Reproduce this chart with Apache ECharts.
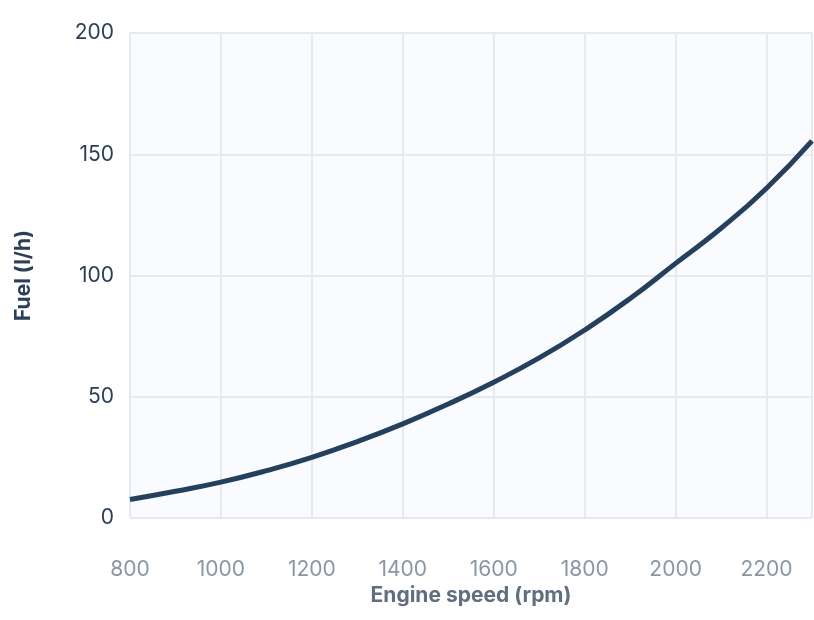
<!DOCTYPE html>
<html><head><meta charset="utf-8">
<script src="https://cdn.jsdelivr.net/npm/echarts@6/dist/echarts.min.js"></script>
<style>html,body{margin:0;padding:0;background:#fff}#c{width:814px;height:620px}</style>
</head><body><div id="c"></div>
<script>
const speeds = [800,900,1000,1100,1200,1300,1400,1500,1600,1700,1800,1900,2000,2100,2200,2300];
const fuel = [7.6,11,14.8,19.5,25,31.5,38.8,47,56,66,77.5,90.5,105,119.5,136,155.5];
const chart = echarts.init(document.getElementById('c'));
chart.setOption({
  animation:false,
  grid:{left:130,right:2,top:33,bottom:102,show:true,backgroundColor:'#f9fbfe',borderColor:'#e6eaef',borderWidth:1},
  xAxis:{type:'value',min:800,max:2300,interval:200,
    name:'Engine speed (rpm)',nameLocation:'middle',nameGap:67,
    nameTextStyle:{color:'#5f6f80',fontSize:21,fontWeight:'bold',fontFamily:'Inter'},
    axisLine:{show:false},axisTick:{show:false},
    axisLabel:{color:'#8a96a3',fontSize:21,margin:41,fontFamily:'Inter',showMaxLabel:false,formatter:v=>String(v)},
    splitLine:{lineStyle:{color:'#e6eaef',width:2}}},
  yAxis:{type:'value',min:0,max:200,interval:50,
    name:'Fuel (l/h)',nameLocation:'middle',nameGap:96,
    nameTextStyle:{color:'#2b4058',fontSize:21,fontWeight:'bold',fontFamily:'Inter'},
    axisLine:{show:false},axisTick:{show:false},
    axisLabel:{color:'#2b4058',fontSize:21,margin:16,fontFamily:'Inter'},
    splitLine:{lineStyle:{color:'#e6eaef',width:2}}},
  series:[{type:'line',smooth:true,showSymbol:false,
    data:speeds.map((s,i)=>[s,fuel[i]]),
    lineStyle:{color:'#25405c',width:5}}]
});
</script></body></html>
